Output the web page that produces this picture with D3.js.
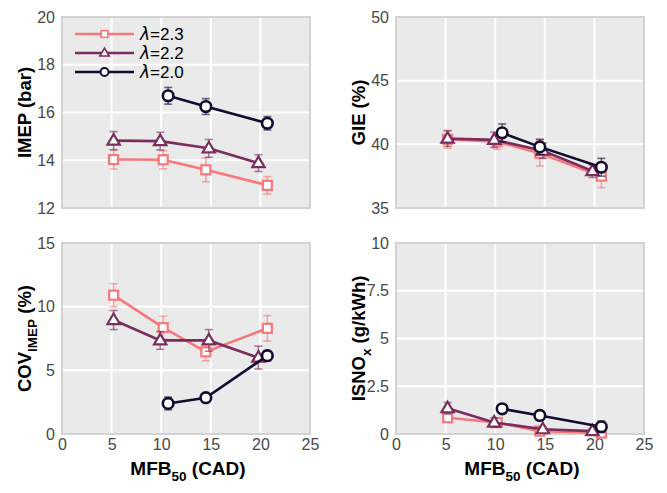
<!DOCTYPE html>
<html>
<head>
<meta charset="utf-8">
<script src="https://cdn.jsdelivr.net/npm/d3@7"></script>
<style>
  html, body { margin: 0; padding: 0; background: #fff; }
  svg { display: block; font-family: "Liberation Sans", Arial, sans-serif; }
</style>
</head>
<body>
<svg id="chart" width="667" height="493"></svg>
<script>
// Combustion metrics against 50% mass-fraction-burned timing, for three lambda values
const lambdaLabels = ["2.3", "2.2", "2.0"];
const seriesColors = ["#f7787a", "#7a2e5e", "#140c30"];
const seriesShapes = ["square", "triangle", "circle"];

const mfb23 = [5.2, 10.2, 14.5, 20.7];
const mfb22 = [5.2, 9.9, 14.8, 19.8];
const mfb20 = [10.7, 14.5, 20.7];

const imep23 = [14.03, 14.02, 13.6, 12.95];
const imep22 = [14.82, 14.8, 14.5, 13.88];
const imep20 = [16.7, 16.25, 15.55];
const imepErr23 = [0.4, 0.38, 0.5, 0.37];
const imepErr22 = [0.38, 0.37, 0.37, 0.35];
const imepErr20 = [0.35, 0.33, 0.28];

const gie23 = [40.4, 40.2, 39.3, 37.5];
const gie22 = [40.45, 40.35, 39.5, 37.9];
const gie20 = [40.9, 39.8, 38.2];
const gieErr23 = [0.7, 0.6, 1.0, 0.9];
const gieErr22 = [0.6, 0.6, 0.6, 0.5];
const gieErr20 = [0.7, 0.6, 0.7];

const cov23 = [10.9, 8.35, 6.45, 8.3];
const cov22 = [8.95, 7.35, 7.35, 6.0];
const cov20 = [2.4, 2.85, 6.15];
const covErr23 = [0.9, 0.9, 0.7, 1.0];
const covErr22 = [0.75, 0.7, 0.85, 0.9];
const covErr20 = [0.5, 0.3, 0.4];

const nox23 = [0.85, 0.6, 0.15, 0.05];
const nox22 = [1.35, 0.6, 0.25, 0.15];
const nox20 = [1.32, 0.97, 0.38];
const noxErr23 = [0.15, 0.15, 0.1, 0.05];
const noxErr22 = [0.3, 0.25, 0.1, 0.1];
const noxErr20 = [0.2, 0.25, 0.3];

const xTicks = [0, 5, 10, 15, 20, 25];
const imepTicks = [12, 14, 16, 18, 20];
const gieTicks = [35, 40, 45, 50];
const covTicks = [0, 5, 10, 15];
const noxTicks = [0, 2.5, 5, 7.5, 10];

const mfbSets = [mfb23, mfb22, mfb20];

const panels = [
  { left: 62, top: 17, ticks: imepTicks, values: [imep23, imep22, imep20], errs: [imepErr23, imepErr22, imepErr20],
    label: [{ t: "IMEP (bar)" }], xLabels: false, legend: true },
  { left: 396, top: 17, ticks: gieTicks, values: [gie23, gie22, gie20], errs: [gieErr23, gieErr22, gieErr20],
    label: [{ t: "GIE (%)" }], xLabels: false },
  { left: 62, top: 243, ticks: covTicks, values: [cov23, cov22, cov20], errs: [covErr23, covErr22, covErr20],
    label: [{ t: "COV" }, { t: "IMEP", sub: true }, { t: " (%)" }], xLabels: true },
  { left: 396, top: 243, ticks: noxTicks, values: [nox23, nox22, nox20], errs: [noxErr23, noxErr22, noxErr20],
    label: [{ t: "ISNO" }, { t: "x", sub: true }, { t: "  (g/kWh)" }], xLabels: true }
];

const W = 248, H = 191;
const svg = d3.select("#chart");
const tickFmt = v => (Number.isInteger(v) ? d3.format("d")(v) : d3.format(".1f")(v));

function drawMarker(g, shape, color, cx, cy, scale) {
  const k = scale || 1;
  if (shape === "square") {
    const s = 9 * k;
    g.append("rect").attr("x", cx - s / 2).attr("y", cy - s / 2).attr("width", s).attr("height", s)
      .attr("fill", "#fff").attr("stroke", color).attr("stroke-width", 2.2 * k);
  } else if (shape === "triangle") {
    const r = 6.5 * k;
    const pts = [[cx, cy - r], [cx + r * 0.95, cy + r * 0.62], [cx - r * 0.95, cy + r * 0.62]];
    g.append("polygon").attr("points", pts.map(p => p.join(",")).join(" "))
      .attr("fill", "#fff").attr("stroke", color).attr("stroke-width", 2.2 * k).attr("stroke-linejoin", "miter");
  } else {
    g.append("circle").attr("cx", cx).attr("cy", cy).attr("r", 5.3 * k)
      .attr("fill", "#fff").attr("stroke", color).attr("stroke-width", 2.6 * k);
  }
}

panels.forEach(p => {
  const x = d3.scaleLinear().domain([0, 25]).range([p.left, p.left + W]);
  const ext = d3.extent(p.ticks);
  const y = d3.scaleLinear().domain(ext).range([p.top + H, p.top]);
  const g = svg.append("g");

  // plot background
  g.append("rect").attr("x", p.left).attr("y", p.top).attr("width", W).attr("height", H)
    .attr("fill", "#eaeaea");

  // grid
  g.append("g").selectAll("line").data(xTicks.slice(1, -1)).join("line")
    .attr("x1", d => x(d)).attr("x2", d => x(d)).attr("y1", p.top).attr("y2", p.top + H)
    .attr("stroke", "#fff").attr("stroke-width", 2);
  g.append("g").selectAll("line").data(p.ticks.slice(1, -1)).join("line")
    .attr("y1", d => y(d)).attr("y2", d => y(d)).attr("x1", p.left).attr("x2", p.left + W)
    .attr("stroke", "#fff").attr("stroke-width", 2);

  // frame
  g.append("rect").attr("x", p.left).attr("y", p.top).attr("width", W).attr("height", H)
    .attr("fill", "none").attr("stroke", "#d3d3d3").attr("stroke-width", 2);

  // y axis
  const yAxis = d3.axisLeft(y).tickValues(p.ticks).tickSize(0).tickPadding(6).tickFormat(tickFmt);
  const ya = g.append("g").attr("transform", `translate(${p.left - 1},0)`).call(yAxis);
  ya.select(".domain").remove();
  ya.selectAll("text").attr("font-size", 16).attr("fill", "#474747")
    .attr("font-family", "Liberation Sans, Arial, sans-serif");

  if (p.xLabels) {
    const xAxis = d3.axisBottom(x).tickValues(xTicks).tickSize(0).tickPadding(5).tickFormat(d3.format("d"));
    const xa = g.append("g").attr("transform", `translate(0,${p.top + H})`).call(xAxis);
    xa.select(".domain").remove();
    xa.selectAll("text").attr("font-size", 16).attr("fill", "#474747")
      .attr("font-family", "Liberation Sans, Arial, sans-serif");

    const xl = g.append("text").attr("x", p.left + W / 2 + 2).attr("y", p.top + H + 41)
      .attr("text-anchor", "middle").attr("font-size", 19).attr("font-weight", "bold").attr("fill", "#000");
    xl.append("tspan").text("MFB");
    xl.append("tspan").text("50").attr("font-size", 13.5).attr("dy", 6);
    xl.append("tspan").text(" (CAD)").attr("dy", -6);
  }

  // y label
  const yl = g.append("text")
    .attr("transform", `translate(${p.left - 31},${p.top + H / 2}) rotate(-90)`)
    .attr("text-anchor", "middle").attr("font-size", 18.5).attr("font-weight", "bold").attr("fill", "#000");
  let shifted = false;
  p.label.forEach(part => {
    const ts = yl.append("tspan").text(part.t);
    if (part.sub) { ts.attr("font-size", 13.5).attr("dy", 6); shifted = true; }
    else if (shifted) { ts.attr("dy", -6); shifted = false; }
  });

  // series
  [0, 1, 2].forEach(i => {
    const xs = mfbSets[i];
    const vs = p.values[i];
    const es = p.errs[i];
    const pts = xs.map((xv, j) => ({ x: xv, y: vs[j], e: es[j] }));
    const color = seriesColors[i];
    const sg = g.append("g");

    // error bars
    const eb = sg.append("g").attr("stroke", color).attr("stroke-opacity", 0.6).attr("stroke-width", 1.6);
    pts.forEach(d => {
      const cx = x(d.x);
      eb.append("line").attr("x1", cx).attr("x2", cx).attr("y1", y(d.y - d.e)).attr("y2", y(d.y + d.e));
      eb.append("line").attr("x1", cx - 4).attr("x2", cx + 4).attr("y1", y(d.y - d.e)).attr("y2", y(d.y - d.e));
      eb.append("line").attr("x1", cx - 4).attr("x2", cx + 4).attr("y1", y(d.y + d.e)).attr("y2", y(d.y + d.e));
    });

    sg.append("path").datum(pts)
      .attr("d", d3.line().x(d => x(d.x)).y(d => y(d.y)))
      .attr("fill", "none").attr("stroke", color).attr("stroke-width", 2.6);

    pts.forEach(d => drawMarker(sg, seriesShapes[i], color, x(d.x), y(d.y)));
  });

  // legend
  if (p.legend) {
    const lg = g.append("g");
    lambdaLabels.forEach((lab, i) => {
      const ly = 34 + i * 19;
      lg.append("line").attr("x1", 75).attr("x2", 134).attr("y1", ly).attr("y2", ly)
        .attr("stroke", seriesColors[i]).attr("stroke-width", 2.6);
      drawMarker(lg, seriesShapes[i], seriesColors[i], 104.5, ly, 0.75);
      const t = lg.append("text").attr("x", 140).attr("y", ly + 6)
        .attr("font-size", 17).attr("fill", "#000");
      t.append("tspan").text("λ").attr("font-style", "italic").attr("font-family", "DejaVu Sans, sans-serif");
      t.append("tspan").text("=" + lab);
    });
  }
});
</script>
</body>
</html>
